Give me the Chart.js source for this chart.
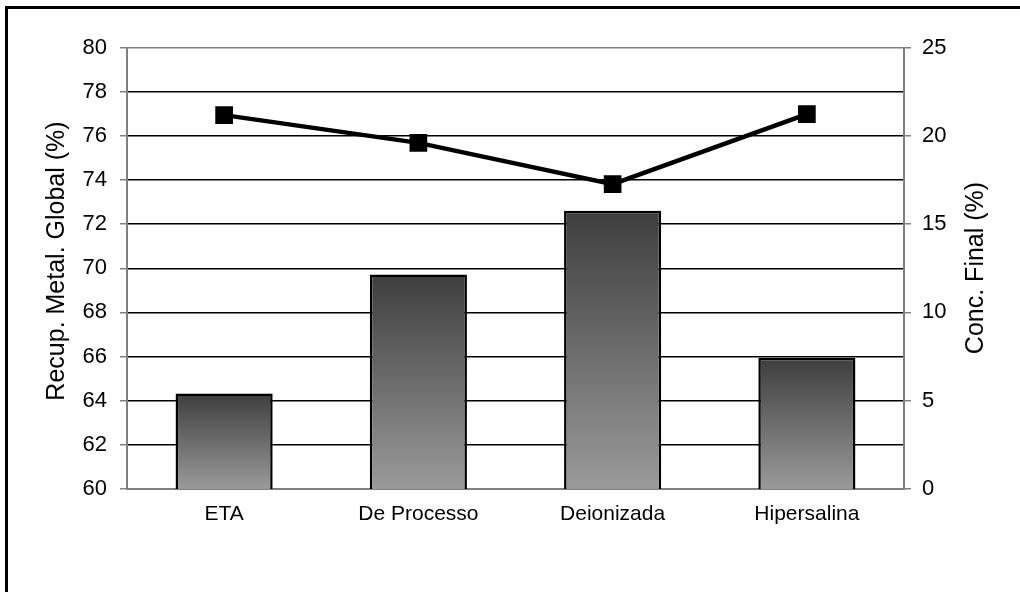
<!DOCTYPE html>
<html>
<head>
<meta charset="utf-8">
<script src="https://cdn.jsdelivr.net/npm/chart.js@4/dist/chart.umd.min.js"></script>
<style>
  html, body { margin: 0; padding: 0; background: #fff; }
  canvas { display: block; }
</style>
</head>
<body>
<canvas id="c" width="1020" height="592"></canvas>
<script>
// Tipos de água avaliados
const categories = ['ETA', 'De Processo', 'Deionizada', 'Hipersalina'];
// Recuperação metalúrgica global (%), eixo esquerdo
const recuperacao = [64.33, 69.72, 72.6, 65.95];
// Concentração final (%), eixo direito
const concFinal = [21.17, 19.6, 17.26, 21.23];
// Faixas dos eixos
const leftTicks = { min: 60, max: 80, step: 2 };
const rightTicks = { min: 0, max: 25, step: 5 };
const leftTitle = 'Recup. Metal. Global (%)';
const rightTitle = 'Conc. Final (%)';

const FONT = '"Liberation Sans", Arial, sans-serif';
const GRAY = '#808080';

// Moldura externa e títulos verticais dos eixos
const decor = {
  id: 'decor',
  beforeDraw(chart) {
    const c = chart.ctx;
    c.save();
    c.strokeStyle = '#000';
    c.lineWidth = 3;
    c.strokeRect(6.5, 7.5, 1200, 1200);
    c.restore();
  },
  afterDraw(chart) {
    const c = chart.ctx;
    c.save();
    c.fillStyle = '#000';
    c.font = '25px ' + FONT;
    c.textAlign = 'center';
    c.textBaseline = 'middle';
    [[57, 261, leftTitle], [976, 268, rightTitle]].forEach(([x, y, t]) => {
      c.save();
      c.translate(x, y);
      c.rotate(-Math.PI / 2);
      c.fillText(t, 0, 0);
      c.restore();
    });
    c.restore();
  }
};

function barGradient(ctx) {
  const chart = ctx.chart;
  if (!chart.chartArea || ctx.type !== 'data') return '#6a6a6a';
  const y = chart.scales.y;
  const top = y.getPixelForValue(ctx.raw);
  const bottom = y.getPixelForValue(y.min);
  const g = chart.ctx.createLinearGradient(0, top, 0, bottom);
  g.addColorStop(0, '#3e3e3e');
  g.addColorStop(1, '#9a9a9a');
  return g;
}

new Chart(document.getElementById('c'), {
  data: {
    labels: categories,
    datasets: [
      {
        type: 'line',
        data: concFinal,
        yAxisID: 'y1',
        order: 0,
        borderColor: '#000',
        borderWidth: 4.5,
        pointStyle: 'rect',
        pointRadius: 12.5,
        pointBackgroundColor: '#000',
        pointBorderColor: '#000',
        pointBorderWidth: 0,
        tension: 0,
        fill: false
      },
      {
        type: 'bar',
        data: recuperacao,
        yAxisID: 'y',
        order: 1,
        backgroundColor: barGradient,
        borderColor: '#000',
        borderWidth: 2.5,
        borderSkipped: false,
        barPercentage: 0.5,
        categoryPercentage: 1
      }
    ]
  },
  options: {
    responsive: false,
    animation: false,
    devicePixelRatio: 1,
    layout: { padding: { top: 47.5, left: 0, right: 0, bottom: 0 } },
    plugins: { legend: { display: false }, tooltip: { enabled: false } },
    scales: {
      x: {
        afterFit(s) { s.height = 103; },
        grid: { display: false, drawTicks: false },
        border: { display: true, color: GRAY, width: 2 },
        ticks: { color: '#000', padding: 13, font: { family: FONT, size: 21 } }
      },
      y: {
        position: 'left',
        min: leftTicks.min,
        max: leftTicks.max,
        afterFit(s) { s.width = 127; },
        grid: {
          color: (c) => (c.tick && (c.tick.value === leftTicks.max || c.tick.value === leftTicks.min)) ? GRAY : '#000',
          lineWidth: 1.5,
          tickColor: GRAY,
          tickLength: 7
        },
        border: { display: true, color: GRAY, width: 2 },
        ticks: { stepSize: leftTicks.step, color: '#000', padding: 13, font: { family: FONT, size: 22 } }
      },
      y1: {
        position: 'right',
        min: rightTicks.min,
        max: rightTicks.max,
        afterFit(s) { s.width = 116; },
        grid: { drawOnChartArea: false, tickColor: GRAY, tickLength: 7, lineWidth: 1.5 },
        border: { display: true, color: GRAY, width: 2 },
        ticks: { stepSize: rightTicks.step, color: '#000', padding: 11, font: { family: FONT, size: 22 } }
      }
    }
  },
  plugins: [decor]
});
</script>
</body>
</html>
